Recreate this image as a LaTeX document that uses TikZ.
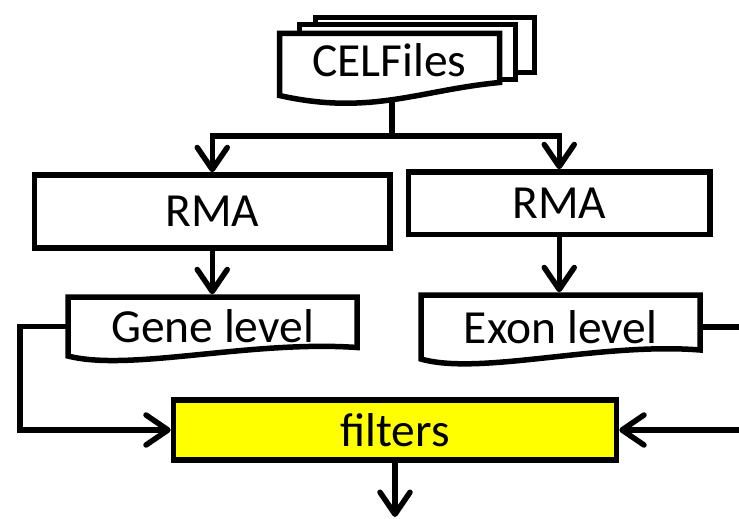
\documentclass[tikz,border=0pt]{standalone}
\usepackage{fontspec}
\setmainfont{Carlito}
\usetikzlibrary{arrows.meta}
\definecolor{hilite}{RGB}{255,255,0}
\pgfdeclarelayer{links}
\pgfdeclarelayer{shapes}
\pgfsetlayers{links,shapes,main}
\begin{document}
\begin{tikzpicture}[x=1pt,y=-1pt,
  every node/.style={font=\fontsize{47.5}{56}\selectfont},
  outline/.style={draw=black, line width=5.5pt, line join=miter, fill=white},
  docarea/.style={draw=none, outer sep=0pt, inner sep=0pt},
  procbox/.style={draw=black, line width=5.5pt, inner sep=0pt},
  link/.style={draw=black, line width=5.5pt},
  flow/.style={link, -{Straight Barb[length=22pt,width=30pt,round]}}]
\clip (0,0) rectangle (739,519);

% stacked data files
\node[docarea, minimum width=219pt, minimum height=55pt] (cel3) at (425,45) {};
\node[docarea, minimum width=216pt, minimum height=55pt] (cel2) at (407.5,52) {};
\node[docarea, minimum width=220pt, minimum height=62pt, text depth=9pt] (cel) at (389.5,64.5) {CELFiles};

% processing steps
\node[procbox, fill=white, minimum width=355.5pt, minimum height=73pt] (rmaL) at (212.25,211.5) {RMA};
\node[procbox, fill=white, minimum width=301.5pt, minimum height=62.5pt] (rmaR) at (559.25,203.25) {RMA};

% summarised data
\node[docarea, minimum width=289pt, minimum height=59pt] (gene) at (212.5,326.5) {Gene level};
\node[docarea, minimum width=279pt, minimum height=64pt] (exon) at (560.5,327) {Exon level};

% filtering step
\node[procbox, fill=hilite, minimum width=443pt, minimum height=60pt] (filters) at (395,430) {filters};

\coordinate (split) at (392,136);
\coordinate (out) at (395,517);

% connectors
\begin{pgfonlayer}{links}
\draw[link] (split |- cel.south) -- (split);
\draw[flow] (split) -| (rmaL.north);
\draw[flow] (split) -| (rmaR.north);
\draw[flow] (rmaL.south) -- ([yshift=2.75pt]rmaL.south |- gene.north);
\draw[flow] (rmaR.south) -- ([yshift=2.75pt]rmaR.south |- exon.north);
\draw[flow] (gene.west) -- ++(-48,0) |- (filters.west);
\draw[flow] (exon.east) -- ++(80,0) |- (filters.east);
\draw[flow] (filters.south) -- (out);
\end{pgfonlayer}

% document outlines
\begin{pgfonlayer}{shapes}
\draw[outline] (cel3.south west) rectangle (cel3.north east);
\draw[outline] (cel2.south west) rectangle (cel2.north east);
\draw[outline] (cel.south west) -- (cel.north west) -- (cel.north east)
  -- ([yshift=13pt]cel.south east)
  .. controls (420,90) and (370,116) .. (cel.south west) -- cycle;
\draw[outline] (gene.south west) -- (gene.north west) -- (gene.north east)
  -- ([yshift=8.5pt]gene.south east)
  .. controls (250,340) and (130,372) .. (gene.south west) -- cycle;
\draw[outline] (exon.south west) -- (exon.north west) -- (exon.north east)
  -- ([yshift=9pt]exon.south east)
  .. controls (600,342) and (480,376) .. (exon.south west) -- cycle;
\end{pgfonlayer}
\end{tikzpicture}
\end{document}
